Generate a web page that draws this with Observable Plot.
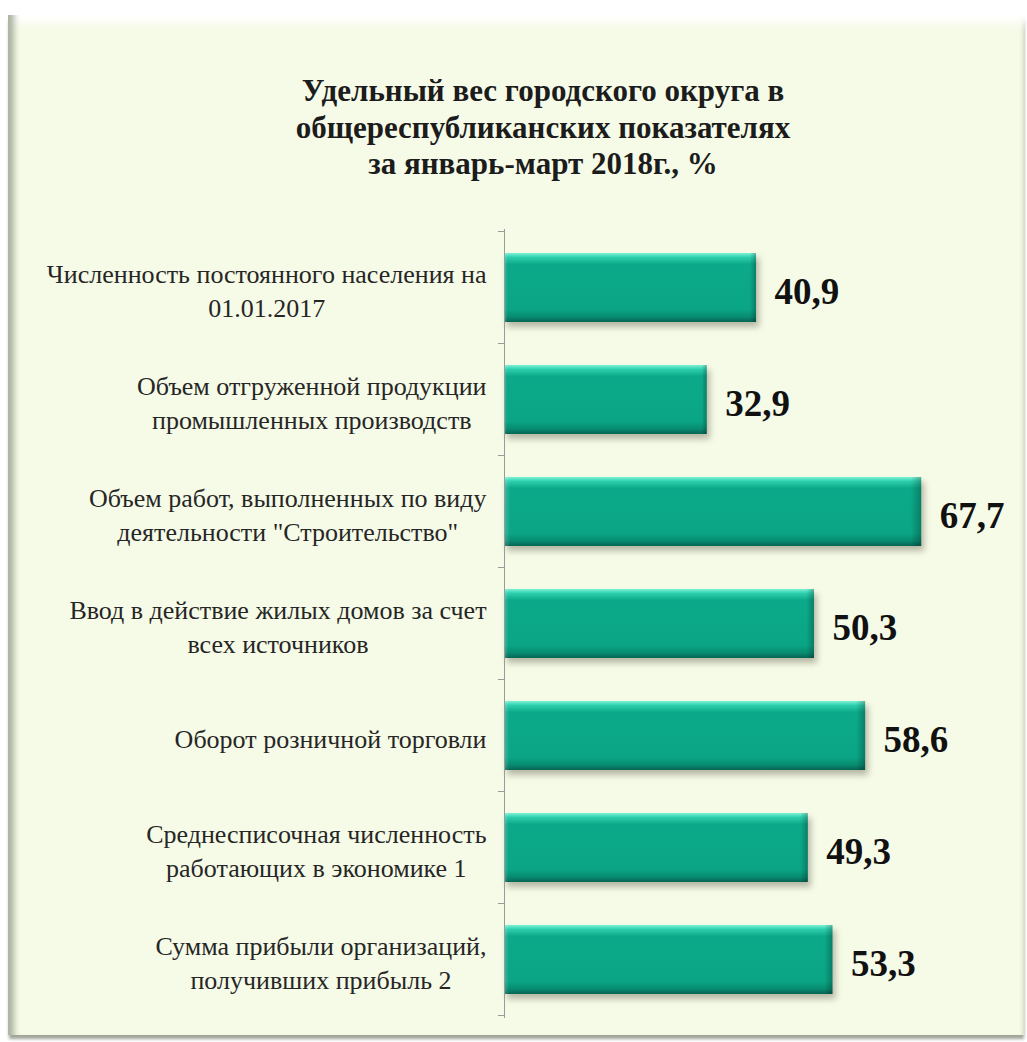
<!DOCTYPE html>
<html><head><meta charset="utf-8">
<script src="https://cdn.jsdelivr.net/npm/d3@7"></script>
<script src="https://cdn.jsdelivr.net/npm/@observablehq/plot@0.6"></script>
<style>
html,body{margin:0;padding:0;background:#ffffff;width:1027px;height:1042px;overflow:hidden}
#panel{position:absolute;left:8px;top:15px;width:1017px;height:1020px;background:#f6fbe7;
  box-shadow: inset 12px 0 6px -6px #a9b3a0, inset 0 16px 10px -8px #ffffff, inset -5px 0 4px -3px #cfd5c3, 0 5px 3px -1px #a0a69a;}
#title{position:absolute;left:0;top:58px;width:1070px;text-align:center;font-family:"Liberation Serif","Times New Roman",serif;
  font-weight:bold;font-size:31px;line-height:36.5px;color:#1c1c1c}
#chart{position:absolute;left:0;top:173px}
</style></head>
<body>
<div id="panel">
  <div id="title">Удельный вес городского округа в<br>общереспубликанских показателях<br>за январь-март 2018г., %</div>
  <div id="chart"></div>
</div>
<script>
const categories = [
  "Численность постоянного населения на\n01.01.2017",
  "Объем отгруженной продукции\nпромышленных производств",
  "Объем работ, выполненных по виду\nдеятельности \"Строительство\"",
  "Ввод в действие жилых домов за счет\nвсех источников",
  "Оборот розничной торговли",
  "Среднесписочная численность\nработающих в экономике 1",
  "Сумма прибыли организаций,\nполучивших прибыль 2"
];
const values = [40.9, 32.9, 67.7, 50.3, 58.6, 49.3, 53.3];

const data = categories.map((c, i) => ({name: c, value: values[i]}));
const fmt = v => v.toFixed(1).replace(".", ",");

const plot = Plot.plot({
  width: 1017,
  height: 847,
  marginTop: 41,
  marginBottom: 17,
  marginLeft: 496,
  marginRight: 28,
  style: {background: "transparent", fontFamily: "'Liberation Serif','Times New Roman',serif", overflow: "visible"},
  x: {domain: [0, 80], axis: null},
  y: {domain: categories, axis: null, paddingInner: 0.38, paddingOuter: 0.19},
  marks: [
    Plot.barX(data, {x: "value", y: "name", fill: "url(#barGrad)"}),
    Plot.barX(data, {x: "value", y: "name", fill: "url(#bevelH)"}),
    Plot.ruleX([0], {stroke: "#9a9a9a", strokeWidth: 1}),
    Plot.text(data, {x: 0, y: "name", text: "name", textAnchor: "end", dx: -18, dy: 1, lineHeight: 1.3,
      fontSize: 26, fill: "#262626"}),
    Plot.text(data, {x: "value", y: "name", text: d => fmt(d.value), textAnchor: "start", dx: 18, dy: 4,
      fontSize: 37, fontWeight: "bold", fill: "#111"})
  ]
});
document.getElementById("chart").appendChild(plot);

const svg = d3.select(plot);
svg.insert("defs", ":first-child").html(`
  <linearGradient id="barGrad" x1="0" y1="0" x2="0" y2="1">
    <stop offset="0" stop-color="#7ef2d8"/>
    <stop offset="0.06" stop-color="#2fcfae"/>
    <stop offset="0.16" stop-color="#0caa8a"/>
    <stop offset="0.82" stop-color="#0aa585"/>
    <stop offset="0.93" stop-color="#088a70"/>
    <stop offset="1" stop-color="#056553"/>
  </linearGradient>
  <linearGradient id="bevelH" x1="0" y1="0" x2="1" y2="0">
    <stop offset="0" stop-color="#ffffff" stop-opacity="0.22"/>
    <stop offset="0.015" stop-color="#ffffff" stop-opacity="0"/>
    <stop offset="0.975" stop-color="#000000" stop-opacity="0"/>
    <stop offset="1" stop-color="#000000" stop-opacity="0.25"/>
  </linearGradient>`);
const bars = plot.querySelectorAll('g[aria-label="bar"]');
if (bars[0]) bars[0].style.filter = "drop-shadow(3px 5px 3px rgba(60,60,40,0.35))";

// center each multi-line label within its own block (block right-aligned)
const texts = plot.querySelectorAll('g[aria-label="text"]');
if (texts[0]) {
  texts[0].querySelectorAll("text").forEach(t => {
    const spans = t.querySelectorAll("tspan");
    if (spans.length < 2) return;
    let maxW = 0;
    spans.forEach(s => { maxW = Math.max(maxW, s.getComputedTextLength()); });
    t.setAttribute("text-anchor", "middle");
    spans.forEach(s => s.setAttribute("x", -maxW / 2));
  });
}

// tick marks at band boundaries, via the plot's own scales
const ys = plot.scale("y"), xs = plot.scale("x");
const x0 = xs.apply(0);
const gap = ys.step - ys.bandwidth;
const bounds = categories.map(c => ys.apply(c) - gap / 2);
bounds.push(ys.apply(categories[categories.length - 1]) + ys.bandwidth + gap / 2);
svg.append("g").selectAll("line").data(bounds).join("line")
  .attr("x1", x0 - 6).attr("x2", x0).attr("y1", d => d).attr("y2", d => d)
  .attr("stroke", "#9a9a9a").attr("stroke-width", 1);
</script>
</body></html>
